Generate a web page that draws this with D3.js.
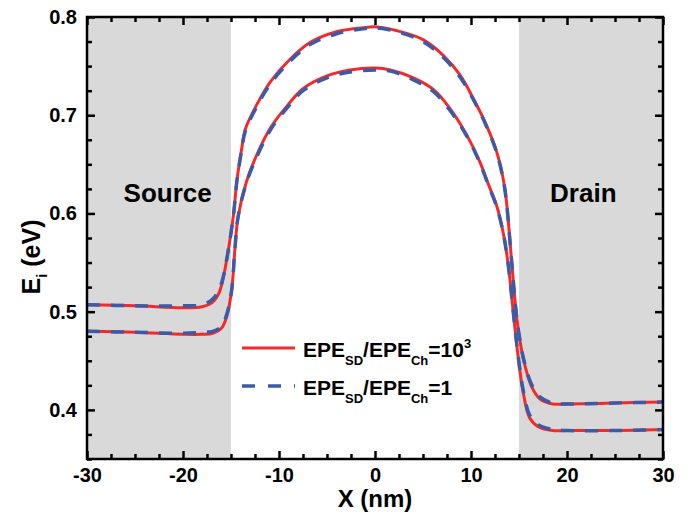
<!DOCTYPE html>
<html>
<head>
  <meta charset="utf-8">
  <title>Ei profile</title>
  <style>
    body { margin: 0; background: #fff; }
    text { font-family: Arial, "Liberation Sans", sans-serif; font-weight: bold; fill: #000; }
    .axis path { display: none; }
    .axis line { stroke: #000; stroke-width: 2.5px; }
    .axis text { font-size: 20px; }
  </style>
</head>
<body>
  <div id="chart"></div>

  <script src="https://cdn.jsdelivr.net/npm/d3@7/dist/d3.min.js"></script>
  <script>
    // upper curve (higher barrier)
    var xUpper = [-30, -25, -20, -18, -17, -16.3, -15.9, -15.45, -14.76, -14.4, -13.9, -13.5, -12.3, -10.9, -8.85, -6.77, -4.0, -1.25, 0, 2.3, 5.0, 7.1, 8.85, 10.24, 11.6, 12.67, 13.5, 14.2, 14.6, 14.95, 15.5, 16.3, 17.2, 18.5, 20, 25, 30];
    var eUpperRed = [0.507, 0.506, 0.504, 0.505, 0.509, 0.518, 0.530, 0.553, 0.597, 0.632, 0.665, 0.686, 0.711, 0.734, 0.757, 0.774, 0.785, 0.789, 0.790, 0.786, 0.777, 0.761, 0.741, 0.717, 0.690, 0.663, 0.627, 0.555, 0.510, 0.480, 0.450, 0.424, 0.411, 0.406, 0.406, 0.407, 0.408];
    var eUpperBlue = [0.507, 0.506, 0.506, 0.507, 0.512, 0.521, 0.532, 0.553, 0.597, 0.632, 0.664, 0.684, 0.709, 0.732, 0.755, 0.772, 0.783, 0.788, 0.789, 0.785, 0.775, 0.759, 0.739, 0.716, 0.689, 0.662, 0.626, 0.555, 0.510, 0.480, 0.451, 0.426, 0.413, 0.407, 0.406, 0.407, 0.408];

    // lower curve
    var xLower = [-30, -25, -20, -18, -16.9, -16.0, -15.45, -14.93, -14.6, -14.27, -13.4, -12.3, -10.9, -9.2, -7.5, -5.0, -2.6, 0, 1.6, 4.0, 6.1, 7.8, 9.55, 10.9, 11.8, 12.7, 13.4, 13.9, 14.4, 14.9, 15.4, 16.1, 17.0, 18.5, 20, 25, 30];
    var eLowerRed = [0.480, 0.479, 0.477, 0.477, 0.478, 0.483, 0.495, 0.522, 0.563, 0.596, 0.632, 0.660, 0.687, 0.709, 0.727, 0.740, 0.746, 0.748, 0.746, 0.738, 0.726, 0.707, 0.680, 0.653, 0.630, 0.607, 0.578, 0.546, 0.500, 0.455, 0.420, 0.392, 0.383, 0.379, 0.379, 0.379, 0.380];
    var eLowerBlue = [0.480, 0.479, 0.478, 0.479, 0.480, 0.485, 0.497, 0.522, 0.563, 0.596, 0.631, 0.658, 0.685, 0.707, 0.725, 0.738, 0.744, 0.746, 0.745, 0.736, 0.724, 0.705, 0.679, 0.652, 0.629, 0.606, 0.578, 0.546, 0.500, 0.456, 0.422, 0.395, 0.385, 0.380, 0.379, 0.379, 0.380];

    var regionNames = ["Source", "Drain"];
    var regionStart = [-30, 15];
    var regionEnd = [-15, 30];
    var labelX = [-21.6, 21.7];
    var labelE = 0.612;

    var xMajor = [-30, -20, -10, 0, 10, 20, 30];
    var yMajor = [0.4, 0.5, 0.6, 0.7, 0.8];

    var width = 699, height = 513;
    var margin = {top: 17, right: 36, bottom: 54, left: 87};

    var svg = d3.select("#chart").append("svg")
      .attr("width", width)
      .attr("height", height);

    var x = d3.scaleLinear().domain([-30, 30]).range([margin.left, width - margin.right]);
    var y = d3.scaleLinear().domain([0.35, 0.8]).range([height - margin.bottom, margin.top]);

    var xMinor = d3.range(-30, 30.01, 2.5).filter(function(v) { return v % 10 !== 0; });
    var yMinor = d3.range(0.35, 0.801, 0.025).filter(function(v) { return Math.abs(v * 10 - Math.round(v * 10)) > 1e-6; });

    // shaded source / drain regions
    svg.selectAll("rect.region")
      .data(regionNames)
      .enter()
      .append("rect")
      .attr("class", "region")
      .attr("x", function(d, i) { return x(regionStart[i]); })
      .attr("y", y(0.8))
      .attr("width", function(d, i) { return x(regionEnd[i]) - x(regionStart[i]); })
      .attr("height", y(0.35) - y(0.8))
      .style("fill", "#d9d9d9");

    svg.selectAll("text.region")
      .data(regionNames)
      .enter()
      .append("text")
      .attr("class", "region")
      .attr("x", function(d, i) { return x(labelX[i]); })
      .attr("y", y(labelE))
      .attr("text-anchor", "middle")
      .style("font-size", "26px")
      .text(function(d) { return d; });

    // axes, ticks inward on all four sides
    function addAxis(axis, tr) {
      return svg.append("g").attr("class", "axis").attr("transform", tr).call(axis);
    }
    var bottom = height - margin.bottom, right = width - margin.right;

    addAxis(d3.axisBottom(x).tickValues(xMajor).tickSizeInner(-8).tickSizeOuter(0).tickPadding(9)
      .tickFormat(function(d) { return String(d); }), "translate(0," + bottom + ")");
    addAxis(d3.axisBottom(x).tickValues(xMinor).tickSize(-5).tickFormat(""), "translate(0," + bottom + ")");
    addAxis(d3.axisTop(x).tickValues(xMajor).tickSize(-8).tickFormat(""), "translate(0," + margin.top + ")");
    addAxis(d3.axisTop(x).tickValues(xMinor).tickSize(-5).tickFormat(""), "translate(0," + margin.top + ")");

    addAxis(d3.axisLeft(y).tickValues(yMajor).tickSizeInner(-8).tickSizeOuter(0).tickPadding(10)
      .tickFormat(d3.format(".1f")), "translate(" + margin.left + ",0)");
    addAxis(d3.axisLeft(y).tickValues(yMinor).tickSize(-5).tickFormat(""), "translate(" + margin.left + ",0)");
    addAxis(d3.axisRight(y).tickValues(yMajor).tickSize(-8).tickFormat(""), "translate(" + right + ",0)");
    addAxis(d3.axisRight(y).tickValues(yMinor).tickSize(-5).tickFormat(""), "translate(" + right + ",0)");

    // curves
    function series(xs, es) {
      return xs.map(function(v, i) { return [v, es[i]]; });
    }
    var line = d3.line()
      .x(function(d) { return x(d[0]); })
      .y(function(d) { return y(d[1]); })
      .curve(d3.curveCatmullRom.alpha(0.5));

    var redSeries = [series(xUpper, eUpperRed), series(xLower, eLowerRed)];
    var blueSeries = [series(xUpper, eUpperBlue), series(xLower, eLowerBlue)];

    svg.selectAll("path.red")
      .data(redSeries)
      .enter()
      .append("path")
      .attr("class", "red")
      .attr("d", line)
      .style("fill", "none")
      .style("stroke", "#f42a2a")
      .style("stroke-width", 3);

    svg.selectAll("path.blue")
      .data(blueSeries)
      .enter()
      .append("path")
      .attr("class", "blue")
      .attr("d", line)
      .style("fill", "none")
      .style("stroke", "#3b5ba8")
      .style("stroke-width", 3.5)
      .style("stroke-dasharray", "13,11");

    // frame
    svg.append("rect")
      .attr("x", margin.left)
      .attr("y", margin.top)
      .attr("width", right - margin.left)
      .attr("height", bottom - margin.top)
      .style("fill", "none")
      .style("stroke", "#000")
      .style("stroke-width", 2.5);

    // legend
    var legendItems = [
      {color: "#f42a2a", dash: null, width: 3, sup: "10", exp: "3"},
      {color: "#3b5ba8", dash: "13,13", width: 3.5, sup: "1", exp: null}
    ];
    var legend = svg.append("g").attr("transform", "translate(242,348)");
    legendItems.forEach(function(item, i) {
      var g = legend.append("g").attr("transform", "translate(0," + (i * 38) + ")");
      g.append("line")
        .attr("x1", 0).attr("x2", 53)
        .style("stroke", item.color)
        .style("stroke-width", item.width)
        .style("stroke-dasharray", item.dash);
      var t = g.append("text").attr("x", 61).attr("y", 9).style("font-size", "21px");
      t.append("tspan").text("EPE");
      t.append("tspan").attr("dy", 8).style("font-size", "13px").text("SD");
      t.append("tspan").attr("dy", -8).text("/EPE");
      t.append("tspan").attr("dy", 8).style("font-size", "13px").text("Ch");
      t.append("tspan").attr("dy", -8).text("=" + item.sup);
      if (item.exp) t.append("tspan").attr("dy", -9).style("font-size", "13px").text(item.exp);
    });

    // axis titles
    svg.append("text")
      .attr("x", (margin.left + right) / 2)
      .attr("y", 507)
      .attr("text-anchor", "middle")
      .style("font-size", "24px")
      .text("X (nm)");

    var yt = svg.append("text")
      .attr("transform", "translate(40,257) rotate(-90)")
      .attr("text-anchor", "middle")
      .style("font-size", "25px");
    yt.append("tspan").text("E");
    yt.append("tspan").attr("dy", 7).style("font-size", "15px").text("i");
    yt.append("tspan").attr("dy", -7).text(" (eV)");
  </script>
</body>
</html>
